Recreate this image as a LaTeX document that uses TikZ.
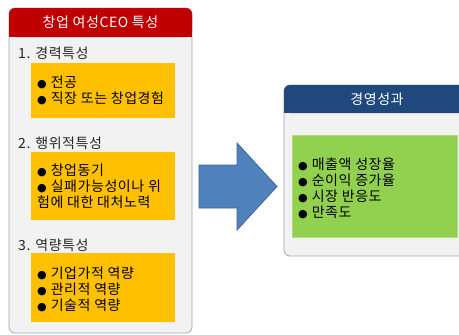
\documentclass[tikz,border=0pt]{standalone}
\usepackage{fontspec}
\setmainfont[LetterSpace=4]{Noto Sans CJK KR}
\newfontfamily\symfont{DejaVu Sans}
\newcommand\mybul{{\symfont\fontsize{11}{11}\selectfont ●}\hspace{4pt}}
\definecolor{panelbg}{HTML}{F2F2F2}
\definecolor{panelline}{RGB}{160,166,190}
\definecolor{hdrred}{HTML}{C00000}
\definecolor{hdrnavy}{HTML}{1F497D}
\definecolor{boxyellow}{HTML}{FFC000}
\definecolor{boxgreen}{HTML}{92D050}
\definecolor{greenline}{HTML}{B0DC80}
\definecolor{arrowblue}{HTML}{4F81BD}
\definecolor{arrowline}{HTML}{3B679A}
\definecolor{labelgray}{HTML}{262626}
\tikzset{
  panel/.style={fill=panelbg, draw=panelline, line width=0.8pt, rounded corners=6pt},
  hdrtext/.style={text=white, font=\fontsize{14}{16}\selectfont, inner sep=0pt},
  seclabel/.style={anchor=west, text=labelgray, font=\fontsize{14}{16}\selectfont, inner sep=0pt},
  itemtext/.style={anchor=west, align=left, text=black, font=\fontsize{14}{16}\selectfont, inner sep=0pt},
}
\begin{document}
\begin{tikzpicture}[x=1pt,y=-1pt]
\useasboundingbox (0,0) rectangle (459,335);
\clip (0,0) rectangle (459,335);
\fill[white] (0,0) rectangle (459,335);
% left panel
\path[panel] (9,8) rectangle (192,333);
\fill[hdrred, rounded corners=6pt] (9,8) rectangle (192,37);
\fill[hdrred] (9,28) rectangle (192,37);
\node[hdrtext] (lefthdr) at (100.5,22.5) {창업 여성CEO 특성};
% section 1
\node[seclabel] (sec1) at (18,53) {1. 경력특성};
\fill[boxyellow] (31,63) rectangle (175,118);
\node[itemtext] (items1) at (37,90) {\mybul 전공\\\mybul 직장 또는 창업경험};
% section 2
\node[seclabel] (sec2) at (18,143) {2. 행위적특성};
\fill[boxyellow] (31,152) rectangle (175,220);
\node[itemtext] (items2) at (37,186.5) {\mybul 창업동기\\\mybul 실패가능성이나 위\\험에 대한 대처노력};
% section 3
\node[seclabel] (sec3) at (18,245) {3. 역량특성};
\fill[boxyellow] (31,253) rectangle (175,322);
\node[itemtext] (items3) at (37,289.5) {\mybul 기업가적 역량\\\mybul 관리적 역량\\\mybul 기술적 역량};
% arrow
\filldraw[fill=arrowblue, draw=arrowline, line width=0.8pt, line join=miter]
  (199,165) -- (237,165) -- (237,143) -- (277,186.5) -- (237,230) -- (237,208) -- (199,208) -- cycle;
% right panel
\path[panel] (284,85) rectangle (475,256);
\fill[hdrnavy, rounded corners=6pt] (284,85) rectangle (475,113);
\fill[hdrnavy] (284,104) rectangle (475,113);
\node[hdrtext] (righthdr) at (377,99) {경영성과};
\filldraw[fill=boxgreen, draw=greenline, line width=0.8pt] (292,135) rectangle (457,237);
\node[itemtext] (items4) at (298,188) {\mybul 매출액 성장율\\\mybul 순이익 증가율\\\mybul 시장 반응도\\\mybul 만족도};
\end{tikzpicture}
\end{document}
